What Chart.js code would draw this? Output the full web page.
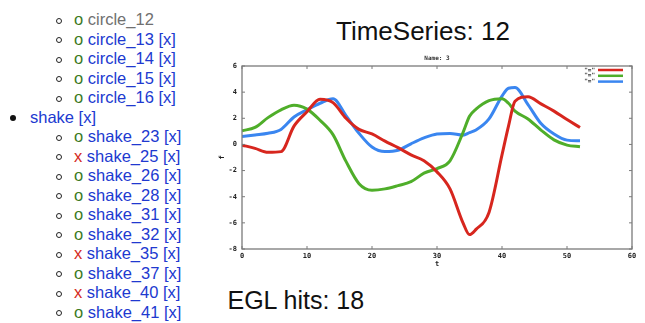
<!DOCTYPE html>
<html>
<head>
<meta charset="utf-8">
<script src="https://cdn.jsdelivr.net/npm/chart.js@4.4.0/dist/chart.umd.min.js"></script>
<style>
  html, body { margin: 0; padding: 0; background: #fff; width: 645px; height: 323px; overflow: hidden;
    font-family: "Liberation Sans", Arial, sans-serif; }
  #list { position: absolute; left: 0; top: 10px; font-size: 16.5px; line-height: 19.5px; }
  .it { position: relative; height: 19.5px; padding-left: 74px; white-space: nowrap; }
  .top { position: relative; height: 19.5px; padding-left: 30px; white-space: nowrap; }
  .b2 { position: absolute; left: 56px; top: 7.7px; width: 4px; height: 4px; border: 1px solid #222; border-radius: 50%; }
  .b1 { position: absolute; left: 10px; top: 7.8px; width: 6px; height: 6px; background: #111; border-radius: 50%; }
  .ok { color: #3d7a1e; }
  .bad { color: #d42b1e; }
  .lk { color: #2039d0; }
  .gray { color: #707070; }
  #ts { position: absolute; left: 336px; top: 18px; font-size: 26px; line-height: 26px; color: #111; }
  #egl { position: absolute; left: 227.5px; top: 288px; font-size: 25px; line-height: 25px; color: #111; }
  #chartBox { position: absolute; left: 215px; top: 50px; width: 430px; height: 225px; }
</style>
</head>
<body>
<div id="list">
  <div class="it"><span class="b2"></span><span class="ok">o</span> <span class="gray">circle_12</span></div>
  <div class="it"><span class="b2"></span><span class="ok">o</span> <span class="lk">circle_13 [x]</span></div>
  <div class="it"><span class="b2"></span><span class="ok">o</span> <span class="lk">circle_14 [x]</span></div>
  <div class="it"><span class="b2"></span><span class="ok">o</span> <span class="lk">circle_15 [x]</span></div>
  <div class="it"><span class="b2"></span><span class="ok">o</span> <span class="lk">circle_16 [x]</span></div>
  <div class="top"><span class="b1"></span><span class="lk">shake [x]</span></div>
  <div class="it"><span class="b2"></span><span class="ok">o</span> <span class="lk">shake_23 [x]</span></div>
  <div class="it"><span class="b2"></span><span class="bad">x</span> <span class="lk">shake_25 [x]</span></div>
  <div class="it"><span class="b2"></span><span class="ok">o</span> <span class="lk">shake_26 [x]</span></div>
  <div class="it"><span class="b2"></span><span class="ok">o</span> <span class="lk">shake_28 [x]</span></div>
  <div class="it"><span class="b2"></span><span class="ok">o</span> <span class="lk">shake_31 [x]</span></div>
  <div class="it"><span class="b2"></span><span class="ok">o</span> <span class="lk">shake_32 [x]</span></div>
  <div class="it"><span class="b2"></span><span class="bad">x</span> <span class="lk">shake_35 [x]</span></div>
  <div class="it"><span class="b2"></span><span class="ok">o</span> <span class="lk">shake_37 [x]</span></div>
  <div class="it"><span class="b2"></span><span class="bad">x</span> <span class="lk">shake_40 [x]</span></div>
  <div class="it"><span class="b2"></span><span class="ok">o</span> <span class="lk">shake_41 [x]</span></div>
</div>

<div id="ts">TimeSeries: 12</div>
<div id="chartBox"><canvas id="plot" width="430" height="225"></canvas></div>
<div id="egl">EGL hits: 18</div>

<script>
// valeurs (t = abscisse commune)
const tVals = [0, 2, 4, 6, 8, 10, 12, 14, 16, 18, 20, 22, 24, 26, 28, 30, 32, 34, 35, 36, 38, 40, 41, 42, 44, 46, 48, 50, 52];
const redVals = [-0.05, -0.3, -0.6, -0.55, 1.4, 2.5, 3.45, 3.2, 2.0, 1.15, 0.8, 0.25, -0.25, -0.8, -1.25, -2.1, -3.4, -6.0, -6.9, -6.5, -5.2, -0.8, 1.4, 3.3, 3.65, 3.1, 2.55, 1.9, 1.3];
const greenVals = [1.05, 1.3, 2.05, 2.65, 3.0, 2.7, 1.85, 0.75, -1.3, -3.0, -3.5, -3.4, -3.15, -2.85, -2.2, -1.85, -1.25, 0.9, 2.15, 2.7, 3.35, 3.5, 3.15, 2.55, 1.95, 1.1, 0.35, -0.05, -0.18];
const blueVals = [0.6, 0.72, 0.85, 1.15, 2.1, 2.65, 3.15, 3.5, 2.2, 0.85, -0.2, -0.55, -0.45, 0.05, 0.5, 0.8, 0.84, 0.71, 0.9, 1.1, 1.95, 3.7, 4.3, 4.35, 3.05, 1.6, 0.8, 0.33, 0.28];
const seriesNames = ['"="', '"="', '"="'];
const seriesColors = ['#d7261e', '#4fae2a', '#3a86f0'];

const monoFont = { family: 'DejaVu Sans Mono', size: 7, weight: 'bold' };

function toPoints(vals) {
  return tVals.map((t, i) => ({ x: t, y: vals[i] }));
}

// cadre + petites graduations vers l'intérieur (style gnuplot)
const framePlugin = {
  id: 'frame',
  afterDatasetsDraw(chart) {
    const { ctx, chartArea: a, scales } = chart;
    ctx.save();
    ctx.strokeStyle = '#7a7a7a';
    ctx.lineWidth = 1.3;
    ctx.strokeRect(a.left, a.top, a.right - a.left, a.bottom - a.top);
    ctx.lineWidth = 1;
    ctx.beginPath();
    scales.x.ticks.forEach(tk => {
      const px = scales.x.getPixelForValue(tk.value);
      ctx.moveTo(px, a.bottom); ctx.lineTo(px, a.bottom - 3);
      ctx.moveTo(px, a.top); ctx.lineTo(px, a.top + 3);
    });
    scales.y.ticks.forEach(tk => {
      const py = scales.y.getPixelForValue(tk.value);
      ctx.moveTo(a.left, py); ctx.lineTo(a.left + 3, py);
      ctx.moveTo(a.right, py); ctx.lineTo(a.right - 3, py);
    });
    ctx.stroke();
    ctx.restore();
  }
};

// légende dans le coin haut droit : texte puis trait
const keyPlugin = {
  id: 'key',
  afterDatasetsDraw(chart) {
    const { ctx, chartArea: a } = chart;
    ctx.save();
    ctx.font = 'bold 6px "DejaVu Sans Mono"';
    ctx.textAlign = 'right';
    ctx.textBaseline = 'middle';
    chart.data.datasets.forEach((ds, i) => {
      const y = a.top + 4 + i * 5.8;
      ctx.fillStyle = '#333';
      ctx.fillText(ds.label, a.right - 37, y);
      ctx.strokeStyle = ds.borderColor;
      ctx.lineWidth = 2.5;
      ctx.beginPath();
      ctx.moveTo(a.right - 34, y);
      ctx.lineTo(a.right - 9, y);
      ctx.stroke();
    });
    ctx.restore();
  }
};

const allVals = [redVals, greenVals, blueVals];

new Chart(document.getElementById('plot'), {
  type: 'line',
  data: {
    datasets: allVals.map((vals, i) => ({
      label: seriesNames[i],
      data: toPoints(vals),
      borderColor: seriesColors[i],
      borderWidth: 3,
      pointRadius: 0,
      fill: false,
      cubicInterpolationMode: 'monotone'
    }))
  },
  options: {
    responsive: false,
    animation: false,
    layout: { padding: { left: 0, right: 13, top: 0, bottom: 0 } },
    plugins: {
      legend: { display: false },
      tooltip: { enabled: false },
      title: {
        display: true,
        text: 'Name: 3',
        fullSize: false,
        color: '#333',
        font: { family: 'DejaVu Sans Mono', size: 6, weight: 'bold' },
        padding: { top: 4.5, bottom: 4.3 }
      }
    },
    scales: {
      x: {
        type: 'linear',
        min: 0,
        max: 60,
        afterFit(scale) { scale.height = 26; },
        ticks: { stepSize: 10, color: '#222', font: monoFont, padding: 3, maxRotation: 0 },
        grid: { display: false, drawTicks: false },
        border: { display: false },
        title: { display: true, text: 't', color: '#222', font: monoFont, padding: 7 }
      },
      y: {
        min: -8,
        max: 6,
        afterFit(scale) { scale.width = 27; },
        ticks: { stepSize: 2, color: '#222', font: monoFont, padding: 5 },
        grid: { display: false, drawTicks: false },
        border: { display: false },
        title: { display: true, text: 'f', color: '#222', font: monoFont, padding: 3 }
      }
    }
  },
  plugins: [framePlugin, keyPlugin]
});
</script>
</body>
</html>
